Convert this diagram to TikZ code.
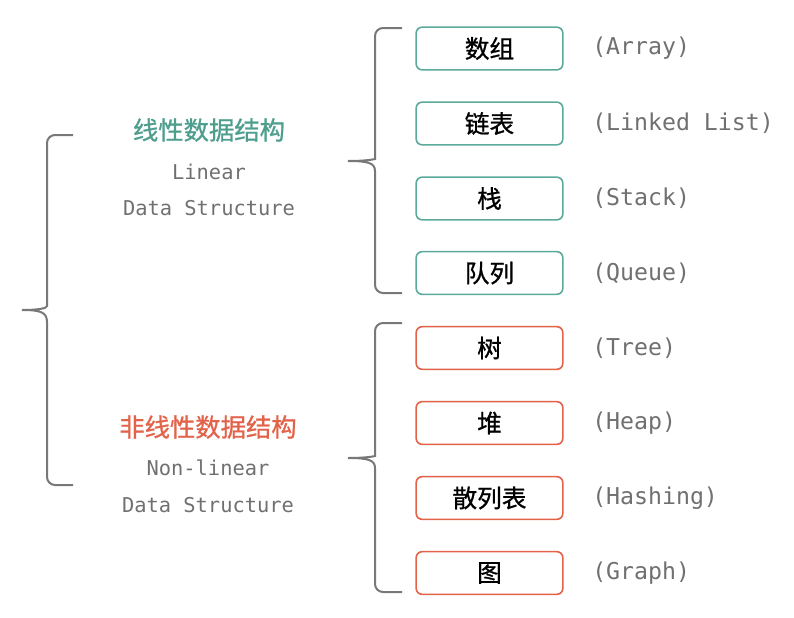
\documentclass[tikz,border=0pt]{standalone}
\usepackage{fontspec}
\newfontfamily\cjk[FakeBold=0.9]{Noto Sans CJK SC}
\newfontfamily\monof{DejaVu Sans Mono}
\definecolor{lgreen}{HTML}{4E9E8E}
\definecolor{bgreen}{HTML}{5BAA9B}
\definecolor{lred}{HTML}{E3624A}
\definecolor{tgray}{HTML}{707070}
\definecolor{bracegray}{HTML}{787878}
\tikzset{
  gbox/.style={draw=bgreen, line width=1.2pt, rounded corners=4.5pt, minimum width=110pt, minimum height=32pt, inner sep=0pt, font=\cjk\fontsize{18.5}{20}\selectfont, text=black},
  rbox/.style={gbox, draw=lred},
  elabel/.style={anchor=west, inner sep=0pt, font=\monof\fontsize{17.4}{20}\selectfont, text=tgray},
  cattitle/.style={inner sep=0pt, font=\cjk\fontsize{19}{22}\selectfont},
  catsub/.style={inner sep=0pt, font=\monof\fontsize{15.3}{18}\selectfont, text=tgray},
}
\begin{document}
\begin{tikzpicture}[x=0.75pt,y=-0.75pt]
\useasboundingbox (0,0) rectangle (794,618);
% braces
\draw[bracegray, line width=1.5pt] [rounded corners=6pt] (73,135) -- (47,135) -- (47,298)
  [sharp corners] .. controls (47,308) and (40,310) .. (22,310)
  .. controls (40,310) and (47,312) .. (47,322)
  [rounded corners=6pt] -- (47,485) -- (73,485);
\draw[bracegray, line width=1.5pt] [rounded corners=6pt] (402,28) -- (375,28) -- (375,151)
  [sharp corners] .. controls (375,159) and (368,161) .. (348,161)
  .. controls (368,161) and (375,163) .. (375,171)
  [rounded corners=6pt] -- (375,293) -- (402,293);
\draw[bracegray, line width=1.5pt] [rounded corners=6pt] (402,323) -- (375,323) -- (375,448)
  [sharp corners] .. controls (375,456) and (368,458) .. (348,458)
  .. controls (368,458) and (375,460) .. (375,468)
  [rounded corners=6pt] -- (375,592) -- (402,592);
% category labels
\node[cattitle, text=lgreen] (lin) at (209,130) {线性数据结构};
\node[catsub] (lin1) at (209,172) {Linear};
\node[catsub] (lin2) at (209,208) {Data Structure};
\node[cattitle, text=lred] (nonlin) at (208,427) {非线性数据结构};
\node[catsub] (nonlin1) at (208,468) {Non-linear};
\node[catsub] (nonlin2) at (208,505) {Data Structure};
% boxes
\node[gbox] (b1) at (489.5,48.5) {数组};
\node[gbox] (b2) at (489.5,123.5) {链表};
\node[gbox] (b3) at (489.5,198.5) {栈};
\node[gbox] (b4) at (489.5,273) {队列};
\node[rbox] (b5) at (489.5,348) {树};
\node[rbox] (b6) at (489.5,423) {堆};
\node[rbox] (b7) at (489.5,498) {散列表};
\node[rbox] (b8) at (489.5,573) {图};
% english labels
\node[elabel] (e1) at (592,48.5) {(Array)};
\node[elabel] (e2) at (592,123.5) {(Linked List)};
\node[elabel] (e3) at (592,198.5) {(Stack)};
\node[elabel] (e4) at (592,273) {(Queue)};
\node[elabel] (e5) at (592,348) {(Tree)};
\node[elabel] (e6) at (592,423) {(Heap)};
\node[elabel] (e7) at (592,498) {(Hashing)};
\node[elabel] (e8) at (592,573) {(Graph)};
\end{tikzpicture}
\end{document}
